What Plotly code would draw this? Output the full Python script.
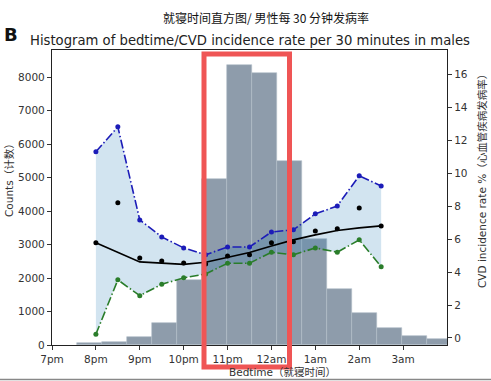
import plotly.graph_objects as go

# ---------------- data ----------------
# histogram bin edges (hours, 24 = midnight) and counts
bin_edges = [19.57, 20.14, 20.71, 21.28, 21.85, 22.42, 22.99, 23.56, 24.13,
             24.70, 25.27, 25.84, 26.41, 26.98, 27.55, 28.12]
counts = [50, 90, 250, 650, 1930, 4950, 8360, 8110, 5490, 3160, 1670, 955, 500, 280, 180]

# CVD incidence rate per 30 minutes (%)
rate_times = [20.0, 20.5, 21.0, 21.5, 22.0, 22.5, 23.0, 23.5, 24.0, 24.5, 25.0, 25.5, 26.0, 26.5]
rate_obs   = [5.78, 8.21, 4.86, 4.68, 4.56, 4.50, 4.98, 5.05, 5.78, 5.84, 6.50, 6.63, 7.90, 6.81]
rate_fit   = [5.78, 5.20, 4.62, 4.55, 4.47, 4.60, 4.91, 5.19, 5.59, 5.96, 6.26, 6.53, 6.69, 6.81]
rate_upper = [11.31, 12.83, 7.17, 6.14, 5.47, 5.05, 5.53, 5.53, 6.44, 6.57, 7.54, 8.02, 9.85, 9.24]
rate_lower = [0.22, 3.53, 2.57, 3.26, 3.65, 3.89, 4.54, 4.54, 5.21, 5.05, 5.47, 5.21, 5.96, 4.33]

tick_hours = [19, 20, 21, 22, 23, 24, 25, 26, 27]
tick_labels = ["7pm", "8pm", "9pm", "10pm", "11pm", "12am", "1am", "2am", "3am"]

# ---------------- layout constants ----------------
W, H = 491, 381
L, R, T, B = 52, 44, 50, 36
PW, PH = W - L - R, H - T - B

def px(x):
    return (x - L) / PW

def py(y):
    return (H - B - y) / PH

FONT = "DejaVu Sans, Noto Sans CJK SC, sans-serif"
CJK = "Noto Sans CJK SC, DejaVu Sans, sans-serif"

centers = [(a + b) / 2 for a, b in zip(bin_edges[:-1], bin_edges[1:])]
widths = [b - a for a, b in zip(bin_edges[:-1], bin_edges[1:])]

fig = go.Figure()

fig.add_trace(go.Bar(
    x=centers, y=counts, width=widths,
    marker=dict(color="#8e9cab", line=dict(color="#b3bfca", width=0.6)),
    yaxis="y", showlegend=False,
))

# confidence band fill
fig.add_trace(go.Scatter(x=rate_times, y=rate_upper, mode="lines",
                         line=dict(width=0, color="rgba(0,0,0,0)"),
                         yaxis="y2", showlegend=False, hoverinfo="skip"))
fig.add_trace(go.Scatter(x=rate_times, y=rate_lower, mode="lines",
                         line=dict(width=0, color="rgba(0,0,0,0)"),
                         fill="tonexty", fillcolor="rgba(31,119,180,0.2)",
                         yaxis="y2", showlegend=False, hoverinfo="skip"))

dashdot = "9px,2.5px,1.5px,2.5px"
fig.add_trace(go.Scatter(x=rate_times, y=rate_upper, mode="lines+markers",
                         line=dict(color="#1c1cb8", width=1.6, dash=dashdot),
                         marker=dict(size=5, color="#1c1cb8"),
                         yaxis="y2", showlegend=False))
fig.add_trace(go.Scatter(x=rate_times, y=rate_lower, mode="lines+markers",
                         line=dict(color="#2a7d2a", width=1.6, dash=dashdot),
                         marker=dict(size=5, color="#2a7d2a"),
                         yaxis="y2", showlegend=False))
fig.add_trace(go.Scatter(x=rate_times, y=rate_fit, mode="lines",
                         line=dict(color="black", width=1.7),
                         yaxis="y2", showlegend=False))
fig.add_trace(go.Scatter(x=rate_times, y=rate_obs, mode="markers",
                         marker=dict(size=5, color="black"),
                         yaxis="y2", showlegend=False))

axis_common = dict(showgrid=False, zeroline=False, showline=True,
                   linecolor="#222", linewidth=1.2, ticks="outside",
                   ticklen=4, tickcolor="#333",
                   tickfont=dict(family=FONT, size=10.5, color="#333"))

fig.update_layout(
    width=W, height=H,
    margin=dict(l=L, r=R, t=T, b=B, pad=0),
    paper_bgcolor="white", plot_bgcolor="white",
    bargap=0,
    xaxis=dict(range=[19, 28], tickvals=tick_hours, ticktext=tick_labels,
               mirror=True, **axis_common),
    yaxis=dict(range=[0, 8810], tickvals=list(range(0, 9000, 1000)), **axis_common),
    yaxis2=dict(range=[-0.43, 17.5], tickvals=list(range(0, 18, 2)),
                overlaying="y", side="right", **axis_common),
    font=dict(family=FONT),
)

annotations = [
    dict(text="就寝时间直方图/ 男性每 30 分钟发病率", x=px(266), y=py(18),
         font=dict(family=CJK, size=12, color="#111")),
    dict(text="<b>B</b>", x=px(11), y=py(35),
         font=dict(family=FONT, size=18, color="#111")),
    dict(text="Histogram of bedtime/CVD incidence rate per 30 minutes in males",
         x=px(250), y=py(40), font=dict(family=FONT, size=13.2, color="#222")),
    dict(text="Bedtime（就寝时间）", x=px(282), y=py(372),
         font=dict(family=FONT, size=10.5, color="#333")),
    dict(text="Counts（计数）", x=px(9), y=py(178), textangle=-90,
         font=dict(family=FONT, size=10.5, color="#333")),
    dict(text="CVD incidence rate %（心血管疾病发病率）", x=px(482), y=py(179),
         textangle=-90, font=dict(family=FONT, size=10.5, color="#333")),
]
for a in annotations:
    a.update(xref="paper", yref="paper", showarrow=False,
             xanchor="center", yanchor="middle")
fig.update_layout(annotations=annotations)

fig.update_layout(shapes=[
    dict(type="rect", xref="paper", yref="paper",
         x0=px(204), x1=px(289.5), y0=py(367), y1=py(54),
         line=dict(color="#ef5555", width=5), fillcolor="rgba(0,0,0,0)"),
    dict(type="line", xref="paper", yref="paper",
         x0=px(0), x1=px(W), y0=py(379.5), y1=py(379.5),
         line=dict(color="#888", width=1.5)),
])

fig.write_html("out.html")
